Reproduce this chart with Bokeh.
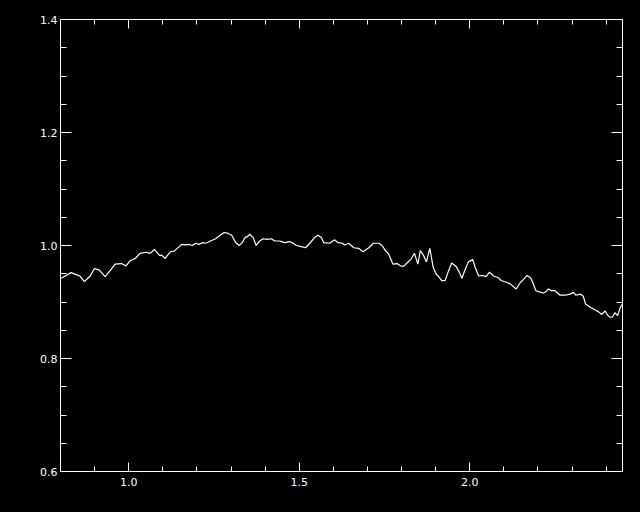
from bokeh.plotting import figure
from bokeh.models import LinearAxis, SingleIntervalTicker, PrintfTickFormatter, Range1d
from bokeh.embed import file_html
from bokeh.resources import INLINE

# Data
x_vals = [0.802, 0.831, 0.848, 0.857, 0.870, 0.887, 0.899, 0.913, 0.931, 0.945,
          0.960, 0.979, 0.992, 1.004, 1.019, 1.033, 1.050, 1.063, 1.075, 1.081,
          1.091, 1.097, 1.107, 1.113, 1.123, 1.133, 1.148, 1.155, 1.167, 1.175,
          1.187, 1.196, 1.206, 1.216, 1.226, 1.240, 1.255, 1.270, 1.280, 1.289,
          1.302, 1.314, 1.324, 1.333, 1.341, 1.351, 1.355, 1.365, 1.374, 1.382,
          1.394, 1.406, 1.418, 1.428, 1.443, 1.457, 1.472, 1.482, 1.492, 1.506,
          1.519, 1.531, 1.545, 1.555, 1.565, 1.572, 1.589, 1.604, 1.614, 1.627,
          1.633, 1.645, 1.660, 1.674, 1.687, 1.704, 1.718, 1.733, 1.743, 1.753,
          1.762, 1.775, 1.787, 1.797, 1.806, 1.816, 1.828, 1.838, 1.848, 1.855,
          1.865, 1.873, 1.883, 1.893, 1.902, 1.906, 1.918, 1.928, 1.936, 1.947,
          1.960, 1.970, 1.977, 1.987, 1.996, 2.009, 2.016, 2.026, 2.038, 2.048,
          2.058, 2.070, 2.084, 2.092, 2.107, 2.119, 2.136, 2.149, 2.158, 2.168,
          2.178, 2.182, 2.194, 2.204, 2.216, 2.223, 2.231, 2.240, 2.250, 2.265,
          2.280, 2.294, 2.304, 2.311, 2.324, 2.333, 2.340, 2.356, 2.368, 2.377,
          2.387, 2.397, 2.405, 2.412, 2.418, 2.426, 2.434, 2.441, 2.448]
y_vals = [0.942, 0.952, 0.948, 0.946, 0.936, 0.946, 0.959, 0.957, 0.945, 0.955,
          0.967, 0.968, 0.964, 0.973, 0.977, 0.986, 0.988, 0.986, 0.993, 0.989,
          0.982, 0.983, 0.977, 0.982, 0.989, 0.990, 0.998, 1.002, 1.001, 1.002,
          1.000, 1.004, 1.002, 1.005, 1.004, 1.008, 1.012, 1.019, 1.023, 1.022,
          1.018, 1.005, 1.000, 1.005, 1.014, 1.017, 1.020, 1.014, 1.000, 1.007,
          1.012, 1.011, 1.012, 1.008, 1.008, 1.005, 1.007, 1.004, 1.000, 0.998,
          0.996, 1.004, 1.014, 1.018, 1.014, 1.005, 1.004, 1.010, 1.005, 1.004,
          1.001, 1.004, 0.996, 0.995, 0.989, 0.996, 1.004, 1.004, 1.000, 0.991,
          0.985, 0.967, 0.968, 0.964, 0.963, 0.969, 0.976, 0.986, 0.967, 0.991,
          0.982, 0.971, 0.995, 0.961, 0.949, 0.947, 0.938, 0.938, 0.952, 0.969,
          0.963, 0.952, 0.942, 0.958, 0.971, 0.975, 0.961, 0.946, 0.947, 0.945,
          0.953, 0.946, 0.943, 0.938, 0.935, 0.932, 0.923, 0.935, 0.940, 0.947,
          0.943, 0.939, 0.920, 0.918, 0.916, 0.918, 0.923, 0.920, 0.920, 0.912,
          0.912, 0.914, 0.917, 0.912, 0.914, 0.910, 0.896, 0.890, 0.886, 0.883,
          0.878, 0.884, 0.876, 0.873, 0.873, 0.881, 0.876, 0.890, 0.896]

x_start, x_end = 0.8, 2.448
y_start, y_end = 0.6, 1.40001

FONT = "DejaVu Sans"
FS = "11px"

p = figure(frame_width=562, frame_height=452,
           x_range=Range1d(x_start, x_end), y_range=Range1d(y_start, y_end),
           output_backend="svg", toolbar_location=None,
           background_fill_color="black", border_fill_color="black",
           min_border_left=60, min_border_right=18,
           min_border_top=19, min_border_bottom=41,
           x_axis_location=None, y_axis_location=None)
p.grid.visible = False
p.outline_line_color = "white"
p.outline_line_width = 1

def style(ax, show_labels, major_in, minor_in):
    ax.axis_line_color = "white"
    ax.major_tick_line_color = "white"
    ax.minor_tick_line_color = "white"
    ax.major_tick_in = major_in
    ax.major_tick_out = 0
    ax.minor_tick_in = minor_in
    ax.minor_tick_out = 0
    ax.formatter = PrintfTickFormatter(format="%.1f")
    if show_labels:
        ax.major_label_text_color = "white"
        ax.major_label_text_font = FONT
        ax.major_label_text_font_size = FS
    else:
        ax.major_label_text_color = None
        ax.major_label_text_font_size = "0px"
        ax.major_label_standoff = 0

xb = LinearAxis(ticker=SingleIntervalTicker(interval=0.5, num_minor_ticks=5))
style(xb, True, 9, 5)
xb.major_label_standoff = 6
p.add_layout(xb, "below")

xt = LinearAxis(ticker=SingleIntervalTicker(interval=0.5, num_minor_ticks=5))
style(xt, False, 9, 5)
p.add_layout(xt, "above")

yl = LinearAxis(ticker=SingleIntervalTicker(interval=0.2, num_minor_ticks=4))
style(yl, True, 11, 6)
yl.major_label_standoff = 3
p.add_layout(yl, "left")

yr = LinearAxis(ticker=SingleIntervalTicker(interval=0.2, num_minor_ticks=4))
style(yr, False, 11, 6)
p.add_layout(yr, "right")

p.line(x_vals, y_vals, line_color="white", line_width=1.2)

html = file_html(p, INLINE)
html = html.replace("<head>", "<head><style>html,body{background:#000;}</style>", 1)
open("out.html", "w").write(html)
